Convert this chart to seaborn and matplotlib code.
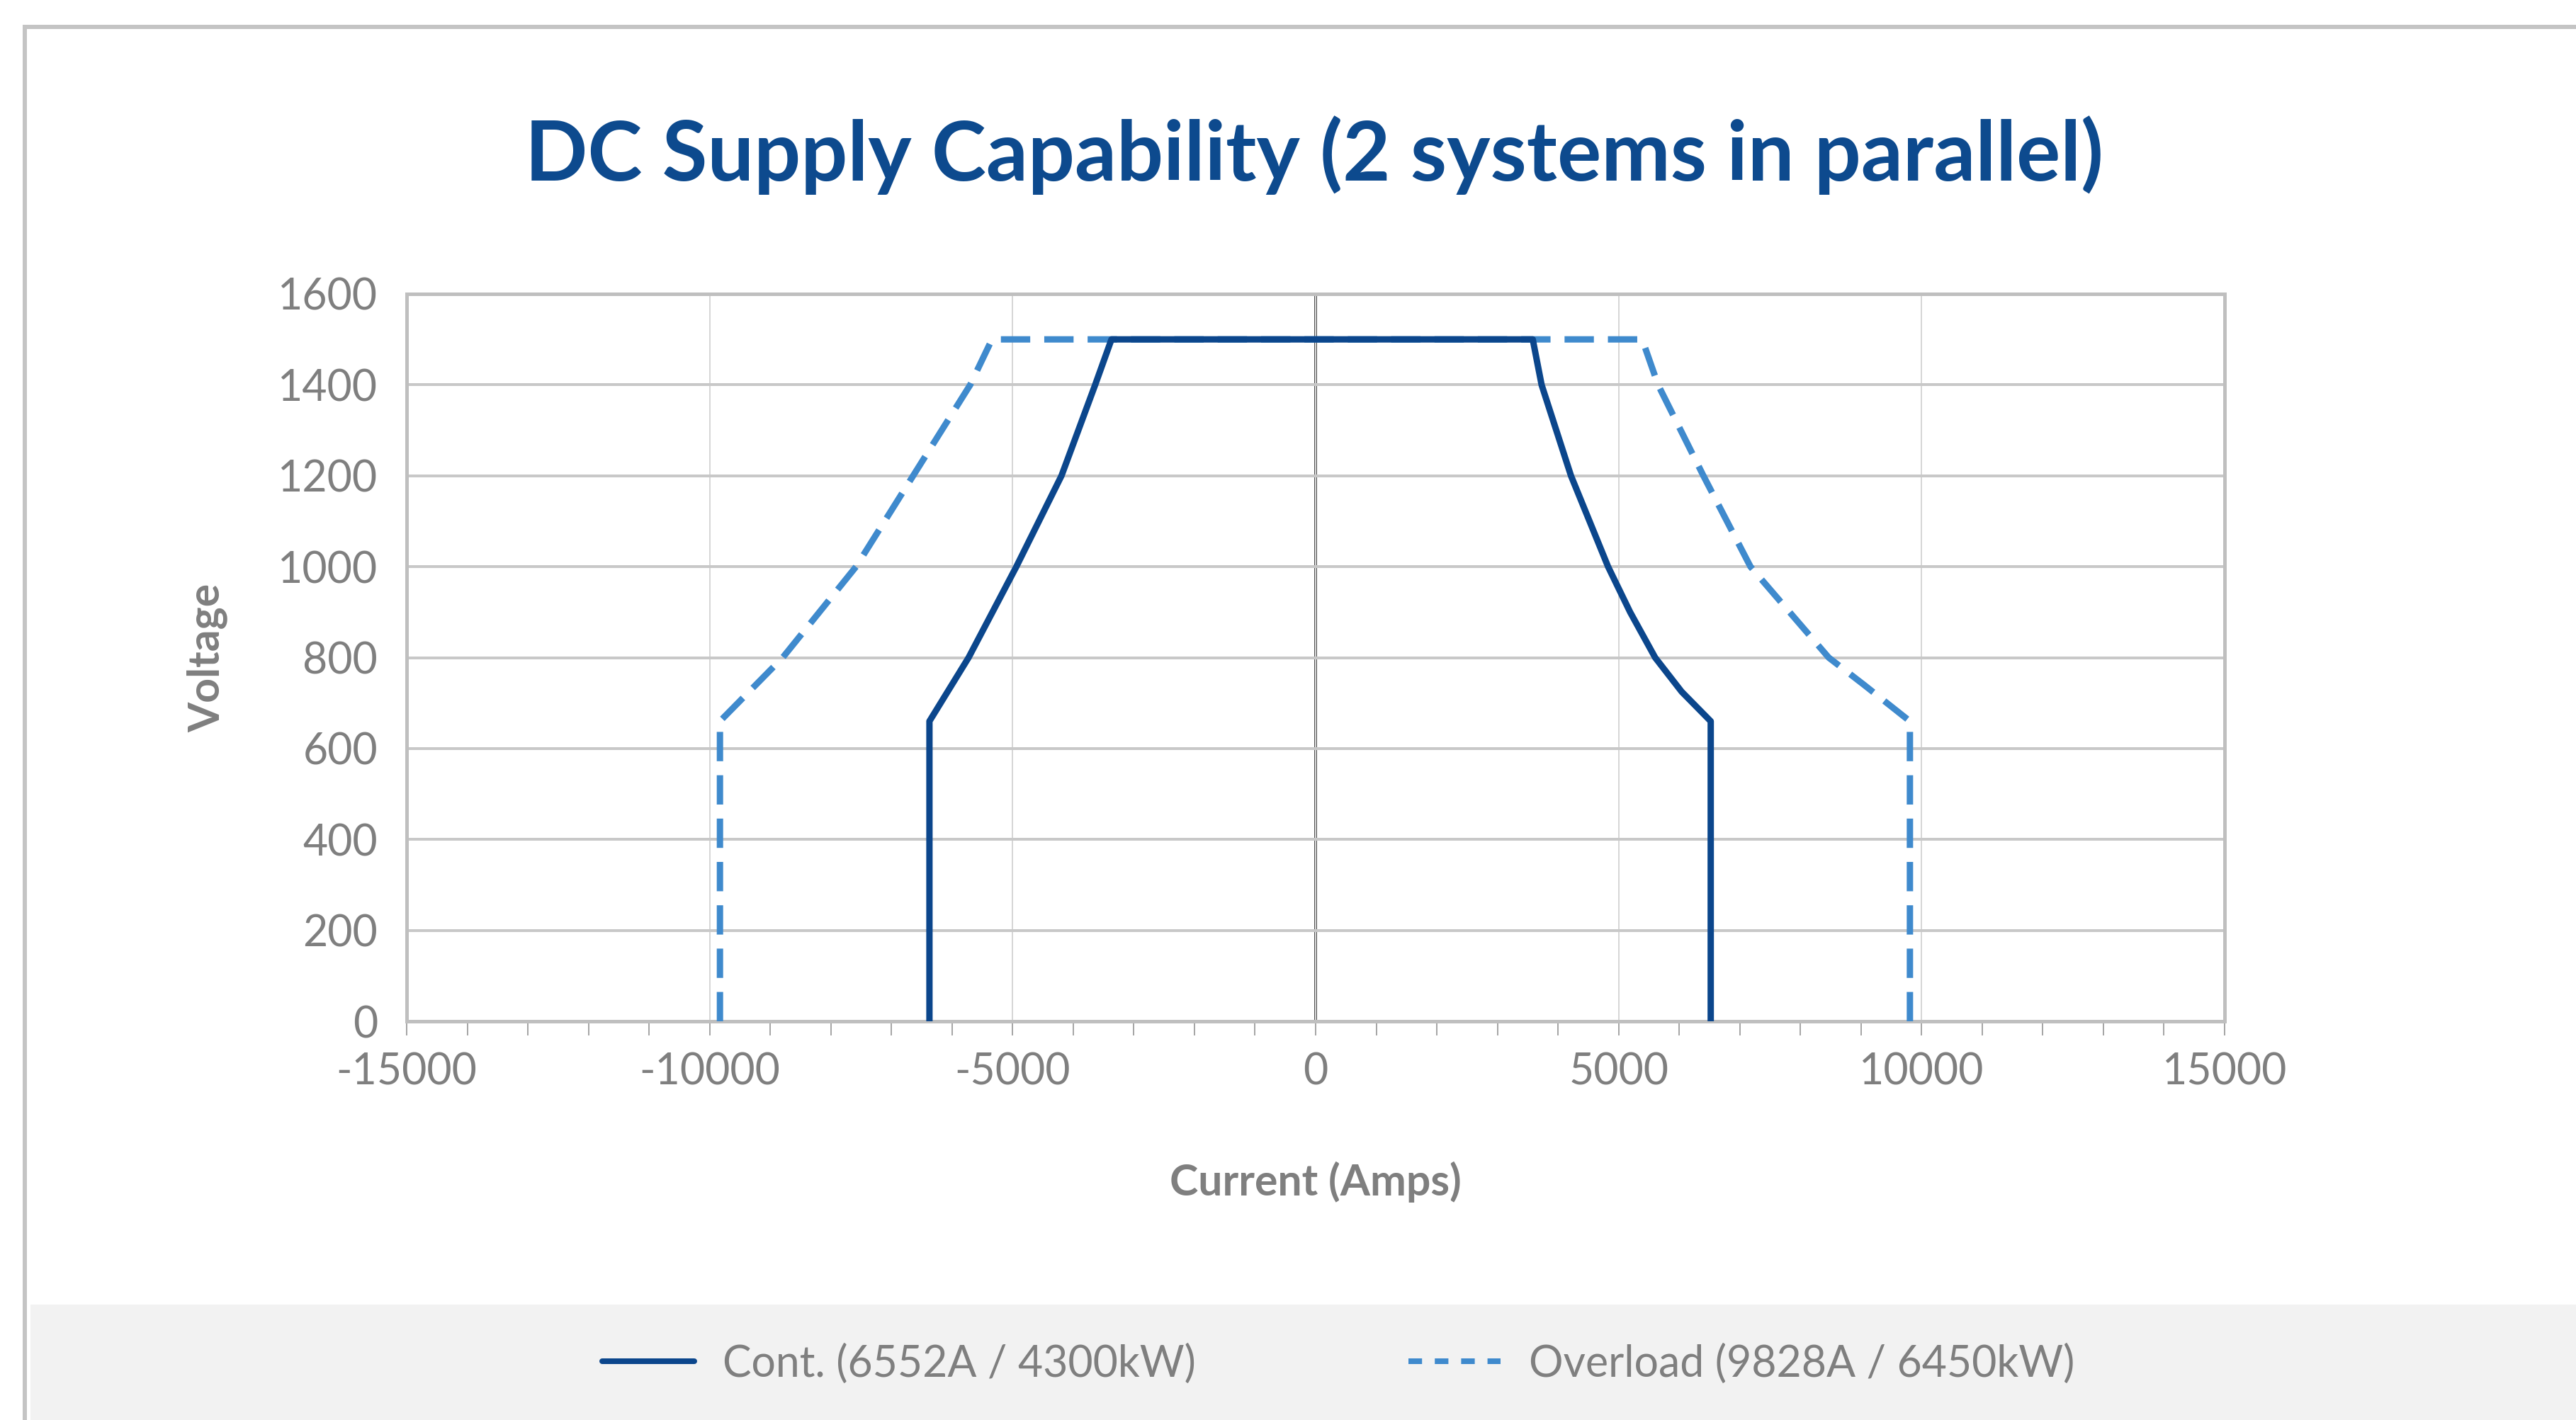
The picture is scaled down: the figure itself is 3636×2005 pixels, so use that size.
import matplotlib
matplotlib.use("Agg")
import matplotlib.pyplot as plt
from matplotlib.lines import Line2D
from matplotlib.patches import Rectangle
from matplotlib.ticker import MultipleLocator
import pandas as pd
import seaborn as sns

# ---------------- data ----------------
cont_current = [-6373, -6373, -5727, -4939, -4194, -3638, -3369,
                3583, 3729, 4214, 4826, 5190, 5603, 6040, 6520, 6520]
cont_voltage = [0, 660, 800, 1000, 1200, 1400, 1500,
                1500, 1400, 1200, 1000, 900, 800, 725, 660, 0]

overload_current = [-9830, -9830, -8795, -7584, -6642, -5700, -5341,
                    5389, 5651, 6399, 7176, 8467, 9050, 9807, 9807]
overload_voltage = [0, 660, 800, 1000, 1200, 1400, 1500,
                    1500, 1400, 1200, 1000, 800, 740, 660, 0]

series_labels = ["Cont. (6552A / 4300kW)", "Overload (9828A / 6450kW)"]
title_text = "DC Supply Capability (2 systems in parallel)"
x_label = "Current (Amps)"
y_label = "Voltage"
x_ticks = [-15000, -10000, -5000, 0, 5000, 10000, 15000]
y_ticks = [0, 200, 400, 600, 800, 1000, 1200, 1400, 1600]

# ---------------- style ----------------
sns.set_theme(style="white")
plt.rcParams["font.family"] = ["Lato", "DejaVu Sans"]
plt.rcParams["axes.unicode_minus"] = False

DPI = 200
W, H = 3636, 2005
PX = 72.0 / DPI  # points per pixel
FS = 21.9

C_CONT = "#0B468C"
C_OVER = "#3F8ACD"
C_TEXT = "#7F7F7F"
C_TITLE = "#0D4A8E"

fig = plt.figure(figsize=(W / DPI, H / DPI), dpi=DPI, facecolor="white")

# background frame and legend band
fig.add_artist(Rectangle((43 / W, 0), 1.0, (H - 1842) / H, transform=fig.transFigure,
                         facecolor="#F2F2F2", edgecolor="none", zorder=0))
fig.add_artist(Rectangle((35 / W, -0.2), 2.0, (H - 38) / H + 0.2, transform=fig.transFigure,
                         facecolor="none", edgecolor="#C4C4C4", linewidth=6 * PX, zorder=1))

ax_l, ax_r, ax_t, ax_b = 574, 3140, 415, 1442
ax = fig.add_axes([ax_l / W, 1 - ax_b / H, (ax_r - ax_l) / W, (ax_b - ax_t) / H])
ax.set_facecolor("none")

df_cont = pd.DataFrame({"Current": cont_current, "Voltage": cont_voltage})
df_over = pd.DataFrame({"Current": overload_current, "Voltage": overload_voltage})

sns.lineplot(data=df_over, x="Current", y="Voltage", sort=False, estimator=None,
             color=C_OVER, linewidth=9 * PX, ax=ax, zorder=3)
ax.lines[-1].set_dashes([4.6, 2.2])
sns.lineplot(data=df_cont, x="Current", y="Voltage", sort=False, estimator=None,
             color=C_CONT, linewidth=9 * PX, ax=ax, zorder=4)
for ln in ax.lines:
    ln.set_solid_joinstyle("round")
    ln.set_dash_joinstyle("round")

ax.set_xlim(-15000, 15000)
ax.set_ylim(0, 1600)
ax.set_xticks(x_ticks)
ax.set_yticks(y_ticks)
ax.xaxis.set_minor_locator(MultipleLocator(1000))

# grid
ax.grid(False)
ax.yaxis.grid(True, color="#C8C8C8", linewidth=4 * PX)
ax.xaxis.grid(True, which="major", color="#D6D6D6", linewidth=2 * PX)
ax.set_axisbelow(True)

for s in ax.spines.values():
    s.set_visible(True)
    s.set_color("#BFBFBF")
    s.set_linewidth(5 * PX)

ax.tick_params(axis="x", which="both", direction="out", length=20 * PX, width=2 * PX,
               color="#A6A6A6", labelsize=FS, labelcolor=C_TEXT, pad=8.6, bottom=True)
ax.tick_params(axis="y", which="both", length=0, labelsize=FS, labelcolor=C_TEXT, pad=14.8, left=True)

# vertical axis line at x = 0 with outward ticks
sec = ax.secondary_yaxis(0.5)
sec.set_alignment("left")
sec.spines["left"].set_color("#505050")
sec.spines["left"].set_linewidth(4 * PX)
sec.set_yticks(y_ticks)
sec.set_yticklabels([])
sec.tick_params(axis="y", direction="out", length=22 * PX, width=3 * PX, color="#505050")

ax.set_xlabel(x_label, fontsize=FS, fontweight="bold", color=C_TEXT)
ax.set_ylabel(y_label, fontsize=FS, fontweight="bold", color=C_TEXT)
ax.xaxis.set_label_coords(0.5, (ax_b - 1640) / (ax_b - ax_t))
ax.yaxis.set_label_coords((321 - ax_l) / (ax_r - ax_l), 0.5)

fig.text(1855 / W, 1 - 255 / H, title_text, ha="center", va="baseline",
         fontsize=41.9, fontweight="bold", color=C_TITLE)

handles = [
    Line2D([], [], color=C_CONT, linewidth=8 * PX),
    Line2D([], [], color=C_OVER, linewidth=8 * PX, dashes=[2.4, 2.25]),
]
leg = fig.legend(handles, series_labels, loc="center left",
                 bbox_to_anchor=(850 / W, 1 - 1926 / H), ncol=2, frameon=False,
                 fontsize=FS, handlelength=2.14, handletextpad=0.66,
                 columnspacing=4.92, borderpad=0, borderaxespad=0)
for t in leg.get_texts():
    t.set_color(C_TEXT)

fig.savefig("out.png", dpi=DPI, facecolor="white")
